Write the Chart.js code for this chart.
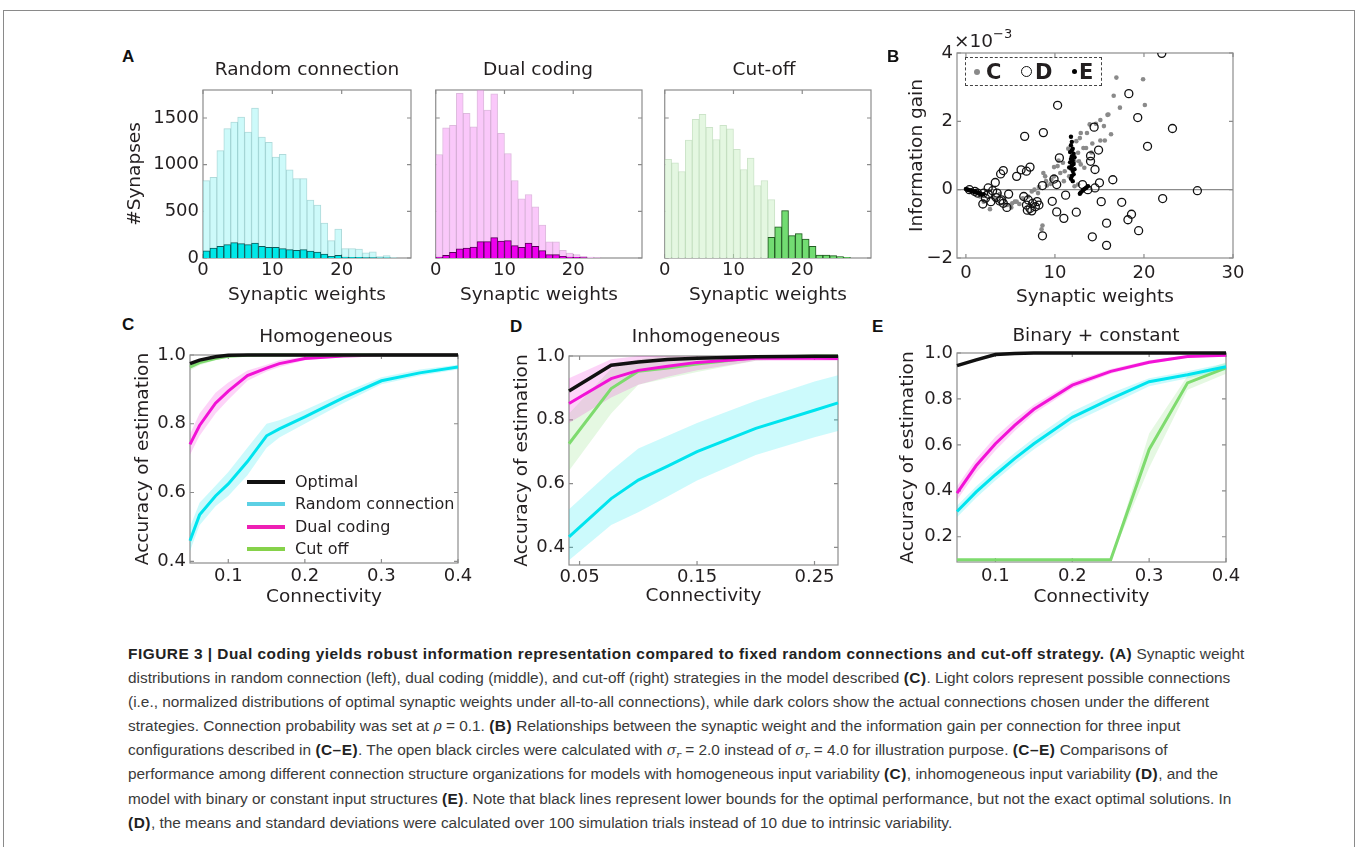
<!DOCTYPE html>
<html>
<head>
<meta charset="utf-8">
<script src="https://cdn.jsdelivr.net/npm/chart.js@4.4.1/dist/chart.umd.min.js"></script>
<style>
  body { margin: 0; width: 1358px; height: 847px; position: relative; overflow: hidden; background: #fff;
         font-family: "DejaVu Sans", sans-serif; color: #231f20; }
  canvas { position: absolute; }
  #frame { position: absolute; left: 3px; top: 10px; width: 1350px; height: 900px;
           border: 1.5px solid #8a8a8a; }
  .ttl { position: absolute; font-size: 18.5px; line-height: 1; white-space: nowrap; transform: translate(-50%, -50%); }
  .let { position: absolute; font: bold 17px/1 "Liberation Sans", Arial, sans-serif; color: #111; }
  .lg { position: absolute; font-size: 16px; line-height: 1; white-space: nowrap; }
  .sw { position: absolute; height: 4px; width: 38px; }
  #bleg { position: absolute; left: 965px; top: 57px; width: 135px; height: 27px; border: 1.5px dashed #444; }
  .bl { position: absolute; font: bold 21px/1 "DejaVu Sans", sans-serif; top: 4px; color: #231f20; }
  .dot { position: absolute; border-radius: 50%; }
  #cap { position: absolute; left: 128px; top: 642px; font: 15.4px/24.1px "Liberation Sans", Arial, sans-serif;
         color: #3a3a3a; white-space: nowrap; }
  #cap b { color: #222; letter-spacing: 0.5px; }
  .m { font-family: "DejaVu Serif", serif; font-style: italic; font-size: 14px; }
  sub { font-size: 10px; line-height: 0; vertical-align: -3px; }
</style>
</head>
<body>
<div id="frame"></div>

<canvas id="hA1"></canvas>
<canvas id="hA2"></canvas>
<canvas id="hA3"></canvas>
<canvas id="cB"></canvas>
<canvas id="cC"></canvas>
<canvas id="cD"></canvas>
<canvas id="cE"></canvas>

<div class="let" style="left:122px;top:48px">A</div>
<div class="let" style="left:887px;top:48px">B</div>
<div class="let" style="left:122px;top:316px">C</div>
<div class="let" style="left:510px;top:318px">D</div>
<div class="let" style="left:872px;top:318px">E</div>

<div class="ttl" style="left:307px;top:69px">Random connection</div>
<div class="ttl" style="left:538px;top:69px">Dual coding</div>
<div class="ttl" style="left:764px;top:69px">Cut-off</div>
<div class="ttl" style="left:326px;top:336px">Homogeneous</div>
<div class="ttl" style="left:706px;top:336px">Inhomogeneous</div>
<div class="ttl" style="left:1096px;top:335px">Binary + constant</div>

<div class="lg" style="left:954px;top:32px;font-size:18.5px">×10<span style="font-size:13px;position:relative;top:-9px">−3</span></div>
<div id="bleg">
  <div class="dot" style="left:8px;top:11px;width:6px;height:6px;background:#8a8a8a"></div>
  <div class="bl" style="left:20px">C</div>
  <div class="dot" style="left:55px;top:8px;width:9px;height:9px;border:1.4px solid #111"></div>
  <div class="bl" style="left:69px">D</div>
  <div class="dot" style="left:106px;top:11px;width:5px;height:5px;background:#000"></div>
  <div class="bl" style="left:113px">E</div>
</div>

<div class="sw" style="left:247px;top:480px;background:#111"></div>
<div class="lg" style="left:295px;top:474px">Optimal</div>
<div class="sw" style="left:247px;top:502px;background:#5cd0e4"></div>
<div class="lg" style="left:295px;top:496px">Random connection</div>
<div class="sw" style="left:247px;top:525px;background:#ee1fb4"></div>
<div class="lg" style="left:295px;top:519px">Dual coding</div>
<div class="sw" style="left:247px;top:547px;background:#86d24a"></div>
<div class="lg" style="left:295px;top:541px">Cut off</div>

<div id="cap">
<b>FIGURE 3 | Dual coding yields robust information representation compared to fixed random connections and cut-off strategy. (A)</b> Synaptic weight<br>
distributions in random connection (left), dual coding (middle), and cut-off (right) strategies in the model described <b>(C)</b>. Light colors represent possible connections<br>
(i.e., normalized distributions of optimal synaptic weights under all-to-all connections), while dark colors show the actual connections chosen under the different<br>
strategies. Connection probability was set at <span class="m">ρ</span> = 0.1. <b>(B)</b> Relationships between the synaptic weight and the information gain per connection for three input<br>
configurations described in <b>(C–E)</b>. The open black circles were calculated with <span class="m">σ<sub>r</sub></span> = 2.0 instead of <span class="m">σ<sub>r</sub></span> = 4.0 for illustration purpose. <b>(C–E)</b> Comparisons of<br>
performance among different connection structure organizations for models with homogeneous input variability <b>(C)</b>, inhomogeneous input variability <b>(D)</b>, and the<br>
model with binary or constant input structures <b>(E)</b>. Note that black lines represent lower bounds for the optimal performance, but not the exact optimal solutions. In<br>
<b>(D)</b>, the means and standard deviations were calculated over 100 simulation trials instead of 10 due to intrinsic variability.
</div>

<script>
// ---- A: histograms, one value per bin of width 1 (bins 0..29)
const randLight = [829, 864, 1150, 1386, 1457, 1511, 1350, 1607, 1296, 1239, 1082, 1111, 946, 850, 850,
                   621, 568, 375, 186, 311, 100, 100, 95, 55, 65, 15, 25, 5, 0, 0];
const randDark = [78, 107, 125, 143, 164, 154, 143, 161, 125, 114, 114, 100, 89, 82, 89,
                  75, 64, 43, 18, 29, 11, 8, 8, 5, 5, 2, 2, 0, 0, 0];
const dualLight = [1109, 1396, 1421, 1764, 1549, 1406, 1800, 1585, 1760, 1335, 1120, 830, 633, 680, 548,
                   354, 172, 172, 82, 54, 36, 18, 10, 5, 0, 0, 0, 0, 0, 0];
const dualDark = [10, 29, 61, 97, 107, 118, 175, 175, 218, 182, 186, 132, 115, 161, 125,
                  79, 36, 36, 18, 11, 7, 4, 0, 0, 0, 0, 0, 0, 0, 0];
const cutLight = [1056, 1020, 927, 1263, 1485, 1539, 1399, 1270, 1421, 1385, 1163, 948, 1070, 777, 830,
                  626, 333, 508, 240, 261, 204, 125, 32, 32, 25, 14, 7, 0, 0, 0];
const cutDark = [0, 0, 0, 0, 0, 0, 0, 0, 0, 0, 0, 0, 0, 0, 0,
                 222, 333, 508, 240, 261, 204, 125, 32, 32, 25, 14, 7, 0, 0, 0];
const histXTicks = [0, 10, 20];
const histYTicks = [0, 500, 1000, 1500];

// ---- B: synaptic weight vs information gain (x1e-3)
const cW = [1.6, 2.0, 2.7, 3.0, 3.3, 3.8, 4.3, 4.4, 4.6, 5.0, 5.1, 5.2, 5.5, 5.7, 6.0, 6.4, 7.0, 7.4, 7.7, 8.1,
            8.2, 8.5, 8.6, 8.7, 8.9, 9.0, 9.1, 9.5, 9.6, 9.9, 9.9, 10.3, 10.4, 10.6, 10.9, 11.0, 11.1, 11.5, 11.6, 12.2,
            12.2, 12.4, 12.6, 12.6, 12.7, 12.8, 12.9, 12.9, 13.2, 13.3, 13.5, 13.6, 13.7, 13.9, 14.1, 14.2, 14.6, 15.1, 15.1, 15.5,
            15.6, 15.9, 16.0, 16.3, 16.6, 16.9, 17.3, 19.9, 20.1];
const cG = [-0.20, -0.35, -0.57, -0.22, -0.30, -0.13, -0.27, -0.45, -0.45, -0.45, -0.52, -0.40, -0.35, -0.35, -0.42, -0.25, -0.20, -0.05, 0.00, -0.10,
            0.08, -1.16, -1.05, 0.49, 0.39, 0.25, 0.12, 0.17, 0.29, 0.39, 0.66, 0.69, 0.85, 0.49, 0.79, 0.25, 0.54, 1.20, 0.39, 0.83,
            0.10, 1.42, 1.08, 0.15, 0.83, 1.51, 0.74, 1.66, 1.22, 0.64, 1.22, 1.66, 0.10, 1.91, 1.09, 1.35, 1.93, 2.04, 1.44, 1.86,
            1.44, 2.19, 2.20, 1.62, 2.75, 3.28, 2.40, 3.23, 2.48];
const dW = [0.4, 1.0, 1.3, 1.9, 2.0, 2.2, 2.5, 2.5, 2.8, 3.0, 3.3, 3.4, 3.5, 3.8, 3.9, 4.0, 4.2, 4.2, 4.6, 4.8,
            5.7, 6.2, 6.5, 6.6, 6.8, 6.8, 6.9, 7.0, 7.2, 7.2, 7.4, 7.5, 7.8, 8.0, 8.2, 8.6, 8.6, 8.7, 9.7, 9.9,
            10.2, 10.2, 10.3, 10.5, 11.0, 11.2, 12.4, 13.1, 13.7, 14.0, 14.0, 14.2, 14.4, 14.5, 14.5, 14.9, 15.0, 15.2, 15.8, 15.8,
            16.5, 17.5, 18.2, 18.3, 18.6, 19.3, 19.4, 20.4, 22.0, 22.1, 23.2, 26.0];
const dG = [0.00, -0.05, -0.10, -0.42, -0.10, -0.25, 0.05, -0.13, -0.35, -0.03, 0.21, -0.23, -0.10, -0.33, 0.46, -0.30, 0.56, -0.40, -0.52, -0.13,
            0.39, 0.58, -0.20, 1.56, 0.54, -0.45, -0.60, -0.30, 0.66, -0.55, -0.62, -0.40, -0.50, -0.35, -0.45, 0.12, -1.35, 1.67, -0.34, 0.31,
            0.15, -0.65, 2.47, 0.93, -0.84, -0.16, -0.66, 0.15, 0.00, 0.99, 0.83, -1.38, 1.83, 0.59, 0.05, 1.16, 0.20, -0.35, -0.98, -1.63,
            0.29, -0.37, -0.88, 2.81, -0.72, 2.11, -1.20, 1.27, 3.99, -0.26, 1.79, -0.03];
const eW = [0.0, 0.1, 0.2, 0.3, 0.4, 0.5, 0.6, 0.7, 0.8, 0.9, 1.0, 1.1, 1.2, 1.3, 1.4, 1.5, 1.6, 1.8, 2.0,
            11.6, 11.7, 11.7, 11.8, 11.8, 11.8, 11.8, 11.8, 11.9, 11.9, 11.9, 11.9, 11.9, 12.0, 12.0, 12.0, 12.0, 12.1, 12.1, 12.1, 12.2, 12.2,
            12.8, 12.9, 13.1, 13.3, 13.5, 13.7];
const eG = [0.02, 0.01, 0.00, -0.01, -0.02, -0.02, -0.03, -0.04, -0.05, -0.05, -0.06, -0.07, -0.08, -0.09, -0.10, -0.11, -0.12, -0.14, -0.13,
            0.65, 1.10, 0.80, 1.55, 1.30, 0.90, 0.62, 0.32, 1.40, 0.98, 0.70, 0.40, 1.15, 1.20, 0.85, 0.55, 0.25, 1.05, 0.75, 0.45, 0.95, 0.60,
            -0.12, -0.08, -0.03, 0.02, 0.05, 0.10];
const bXTicks = [0, 10, 20, 30];
const bYTicks = [-2, 0, 2, 4];

// ---- C: homogeneous
const cX = [0.05, 0.0625, 0.0833, 0.1, 0.125, 0.15, 0.1667, 0.2, 0.25, 0.3, 0.35, 0.4];
const cOpt = [0.975, 0.985, 0.995, 0.999, 1, 1, 1, 1, 1, 1, 1, 1];
const cCut = [0.965, 0.978, 0.99, 0.996, 0.999, 1, 1, 1, 1, 1, 1, 1];
const cCutHi = [0.975, 0.986, 0.995, 0.999, 1, 1, 1, 1, 1, 1, 1, 1];
const cCutLo = [0.955, 0.97, 0.985, 0.993, 0.998, 1, 1, 1, 1, 1, 1, 1];
const cDual = [0.74, 0.795, 0.86, 0.895, 0.94, 0.962, 0.975, 0.99, 0.997, 1, 1, 1];
const cDualHi = [0.77, 0.83, 0.89, 0.92, 0.955, 0.972, 0.985, 0.995, 1, 1, 1, 1];
const cDualLo = [0.71, 0.765, 0.83, 0.87, 0.925, 0.952, 0.965, 0.985, 0.994, 1, 1, 1];
const cRand = [0.46, 0.535, 0.59, 0.625, 0.69, 0.765, 0.785, 0.82, 0.875, 0.925, 0.948, 0.965];
const cRandHi = [0.5, 0.57, 0.62, 0.66, 0.73, 0.8, 0.81, 0.84, 0.89, 0.935, 0.958, 0.972];
const cRandLo = [0.43, 0.505, 0.56, 0.59, 0.65, 0.73, 0.76, 0.8, 0.86, 0.915, 0.94, 0.958];
const cXTicks = [0.1, 0.2, 0.3, 0.4];
const cYTicks = [0.4, 0.6, 0.8, 1.0];

// ---- D: inhomogeneous
const dX = [0.041, 0.0769, 0.1, 0.125, 0.15, 0.2, 0.25, 0.27];
const dOpt = [0.89, 0.971, 0.981, 0.989, 0.993, 0.998, 0.999, 0.999];
const dDual = [0.851, 0.929, 0.955, 0.968, 0.98, 0.993, 0.993, 0.992];
const dDualHi = [0.93, 0.99, 1.0, 1.0, 1.0, 1.0, 1.0, 1.0];
const dDualLo = [0.79, 0.87, 0.91, 0.935, 0.955, 0.985, 0.985, 0.985];
const dCut = [0.725, 0.898, 0.952, 0.962, 0.975, 0.995, 1.0, 1.0];
const dCutHi = [0.82, 0.96, 0.99, 1.0, 1.0, 1.0, 1.0, 1.0];
const dCutLo = [0.64, 0.82, 0.91, 0.93, 0.95, 0.985, 0.995, 0.995];
const dRand = [0.433, 0.553, 0.611, 0.655, 0.70, 0.773, 0.83, 0.853];
const dRandHi = [0.52, 0.64, 0.71, 0.75, 0.79, 0.86, 0.92, 0.94];
const dRandLo = [0.36, 0.47, 0.51, 0.56, 0.61, 0.69, 0.745, 0.765];
const dXTicks = [0.05, 0.15, 0.25];
const dYTicks = [0.4, 0.6, 0.8, 1.0];

// ---- E: binary + constant
const eX = [0.05, 0.075, 0.1, 0.125, 0.15, 0.2, 0.25, 0.3, 0.35, 0.4];
const eOpt = [0.945, 0.97, 0.993, 0.998, 1, 1, 1, 1, 1, 1];
const eDual = [0.39, 0.51, 0.605, 0.685, 0.755, 0.86, 0.92, 0.96, 0.985, 0.99];
const eDualHi = [0.42, 0.54, 0.635, 0.71, 0.775, 0.875, 0.93, 0.968, 0.99, 0.995];
const eDualLo = [0.36, 0.48, 0.575, 0.66, 0.735, 0.845, 0.91, 0.952, 0.98, 0.985];
const eRand = [0.31, 0.395, 0.47, 0.54, 0.605, 0.72, 0.80, 0.875, 0.905, 0.94];
const eRandHi = [0.335, 0.42, 0.495, 0.565, 0.63, 0.745, 0.825, 0.89, 0.92, 0.955];
const eRandLo = [0.285, 0.37, 0.445, 0.515, 0.58, 0.695, 0.775, 0.855, 0.89, 0.925];
const eCut = [0.1, 0.1, 0.1, 0.1, 0.1, 0.1, 0.1, 0.58, 0.87, 0.935];
const eCutHi = [0.1, 0.1, 0.1, 0.1, 0.1, 0.1, 0.1, 0.65, 0.9, 0.96];
const eCutLo = [0.1, 0.1, 0.1, 0.1, 0.1, 0.1, 0.1, 0.5, 0.84, 0.91];
const eXTicks = [0.1, 0.2, 0.3, 0.4];
const eYTicks = [0.2, 0.4, 0.6, 0.8, 1.0];

const CYAN = '#00e4ee', MAG = '#f212d6', GRN = '#7edb6e', BLK = '#111';

Chart.defaults.font.family = '"DejaVu Sans", sans-serif';
Chart.defaults.font.size = 18;
Chart.defaults.color = '#231f20';
Chart.defaults.animation = false;
Chart.defaults.events = [];
Chart.defaults.plugins.legend.display = false;
Chart.defaults.plugins.tooltip.enabled = false;

// box round the plot area plus short inward ticks, like the matplotlib frame
const frame = {
  id: 'frame',
  beforeDatasetsDraw(chart) {
    const { ctx, chartArea: a, scales } = chart;
    ctx.save();
    ctx.strokeStyle = '#8c8c8c';
    ctx.lineWidth = 1.2;
    ctx.strokeRect(a.left, a.top, a.right - a.left, a.bottom - a.top);
    ctx.beginPath();
    scales.x.ticks.forEach(t => {
      const p = scales.x.getPixelForValue(t.value);
      ctx.moveTo(p, a.bottom); ctx.lineTo(p, a.bottom - 4);
      ctx.moveTo(p, a.top); ctx.lineTo(p, a.top + 4);
    });
    scales.y.ticks.forEach(t => {
      const p = scales.y.getPixelForValue(t.value);
      ctx.moveTo(a.left, p); ctx.lineTo(a.left + 4, p);
      ctx.moveTo(a.right, p); ctx.lineTo(a.right - 4, p);
    });
    ctx.stroke();
    ctx.restore();
  }
};

function place(id, p, m) {
  const c = document.getElementById(id);
  c.width = p[2] + m[0] + m[2];
  c.height = p[3] + m[1] + m[3];
  c.style.left = (p[0] - m[0]) + 'px';
  c.style.top = (p[1] - m[1]) + 'px';
  return c;
}

function axis(o) {
  return {
    type: 'linear', min: o.min, max: o.max, offset: false,
    grid: o.grid || { display: false, drawTicks: false, offset: false },
    border: { display: false },
    ticks: { display: o.showTicks !== false, padding: o.pad, callback: o.fmt, font: { size: 18 } },
    title: { display: !!o.title, text: o.title, padding: 0, font: { size: 18.5 } },
    afterBuildTicks: s => { s.ticks = o.ticks.map(v => ({ value: v })); },
    afterFit: s => { if (o.isX) s.height = o.fit; else s.width = o.fit; }
  };
}

const xy = (xs, ys) => xs.map((x, i) => ({ x, y: ys[i] }));
const plain = v => String(v);

function hist(id, p, m, light, dark, cols, showY) {
  const pts = a => a.map((v, i) => ({ x: i + 0.5, y: v })).filter(q => q.y > 0);
  const bar = { grouped: false, barPercentage: 1, categoryPercentage: 1, borderWidth: 1 };
  new Chart(place(id, p, m), {
    type: 'bar',
    data: {
      datasets: [
        Object.assign({ data: pts(dark), backgroundColor: cols[2], borderColor: cols[3] }, bar),
        Object.assign({ data: pts(light), backgroundColor: cols[0], borderColor: cols[1] }, bar)
      ]
    },
    options: {
      responsive: false,
      layout: { padding: { left: 0, top: m[1], right: m[2], bottom: 0 } },
      scales: {
        x: axis({ min: 0, max: 30, ticks: histXTicks, fmt: plain, pad: 2, title: 'Synaptic weights', isX: true, fit: m[3] }),
        y: axis({ min: 0, max: 1800, ticks: histYTicks, fmt: plain, pad: 4, title: showY ? '#Synapses' : '',
                  showTicks: showY, fit: m[0] })
      }
    },
    plugins: [frame]
  });
}

hist('hA1', [203, 90, 208, 168], [79, 20, 20, 48], randLight, randDark,
     ['#cdfafa', 'rgba(110,190,190,0.55)', '#00e8e8', '#0d5c5c'], true);
hist('hA2', [433, 90, 209, 168], [5, 20, 20, 48], dualLight, dualDark,
     ['#fac8fa', 'rgba(200,140,200,0.6)', '#ee00ee', '#5a005a'], false);
hist('hA3', [662, 90, 209, 168], [5, 20, 20, 48], cutLight, cutDark,
     ['#e4f7e1', 'rgba(170,210,165,0.6)', '#72dc72', '#245c24'], false);

// ---- B scatter
const minus = v => (v < 0 ? '\u2212' + Math.abs(v) : String(v));
new Chart(place('cB', [957, 53, 276, 205], [51, 20, 20, 50]), {
  type: 'scatter',
  data: {
    datasets: [
      { data: xy(eW, eG), pointRadius: 2.2, backgroundColor: '#000', borderWidth: 0 },
      { data: xy(dW, dG), pointRadius: 4, backgroundColor: 'rgba(0,0,0,0)', borderColor: '#111', borderWidth: 1.3 },
      { data: xy(cW, cG), pointRadius: 2.3, backgroundColor: '#8a8a8a', borderWidth: 0 }
    ]
  },
  options: {
    responsive: false,
    layout: { padding: { left: 0, top: 20, right: 20, bottom: 0 } },
    scales: {
      x: axis({ min: -1, max: 30, ticks: bXTicks, fmt: plain, pad: 5, title: 'Synaptic weights', isX: true, fit: 50 }),
      y: axis({ min: -2, max: 4, ticks: bYTicks, fmt: minus, pad: 4, title: 'Information gain', fit: 51,
                grid: { display: true, drawTicks: false, lineWidth: 1.2,
                        color: c => (c.tick && c.tick.value === 0 ? '#8c8c8c' : 'rgba(0,0,0,0)') } })
    }
  },
  plugins: [frame]
});

// ---- C, D, E accuracy curves with shaded bands
function band(xs, hi, lo, col) {
  return [
    { data: xy(xs, hi), fill: '+1', backgroundColor: col, borderWidth: 0, pointRadius: 0, order: 10 },
    { data: xy(xs, lo), fill: false, borderWidth: 0, pointRadius: 0, order: 10 }
  ];
}
function line(xs, ys, col, order, w) {
  return { data: xy(xs, ys), borderColor: col, borderWidth: w || 3, pointRadius: 0, fill: false,
           tension: 0, order, clip: false };
}
function acc(id, p, m, datasets, xo, yo) {
  new Chart(place(id, p, m), {
    type: 'line',
    data: { datasets },
    options: {
      responsive: false,
      layout: { padding: { left: 0, top: m[1], right: m[2], bottom: 0 } },
      scales: {
        x: axis(Object.assign({ title: 'Connectivity', isX: true, fit: m[3] }, xo)),
        y: axis(Object.assign({ title: 'Accuracy of estimation', fit: m[0], pad: 4, fmt: v => v.toFixed(1) }, yo))
      }
    },
    plugins: [frame]
  });
}

const fCyan = 'rgba(0,228,238,0.2)', fMag = 'rgba(242,18,214,0.18)', fGrn = 'rgba(126,219,110,0.2)';

acc('cC', [190, 355, 268, 208], [58, 20, 20, 45], [
  ...band(cX, cRandHi, cRandLo, fCyan),
  ...band(cX, cDualHi, cDualLo, fMag),
  ...band(cX, cCutHi, cCutLo, fGrn),
  line(cX, cOpt, BLK, 1, 3.5), line(cX, cCut, GRN, 2), line(cX, cDual, MAG, 3), line(cX, cRand, CYAN, 4)
], { min: 0.05, max: 0.4, ticks: cXTicks, fmt: v => v.toFixed(1), pad: 3 },
   { min: 0.395, max: 1.0, ticks: cYTicks });

acc('cD', [569, 356, 269, 209], [58, 20, 20, 42], [
  ...band(dX, dRandHi, dRandLo, fCyan),
  ...band(dX, dDualHi, dDualLo, fMag),
  ...band(dX, dCutHi, dCutLo, fGrn),
  line(dX, dOpt, BLK, 1, 3.5), line(dX, dDual, MAG, 2), line(dX, dCut, GRN, 3), line(dX, dRand, CYAN, 4)
], { min: 0.041, max: 0.27, ticks: dXTicks, fmt: v => v.toFixed(2), pad: 2 },
   { min: 0.345, max: 1.0, ticks: dYTicks });

acc('cE', [957, 353, 269, 209], [60, 20, 20, 46], [
  ...band(eX, eRandHi, eRandLo, fCyan),
  ...band(eX, eDualHi, eDualLo, fMag),
  ...band(eX, eCutHi, eCutLo, fGrn),
  line(eX, eOpt, BLK, 1, 3.5), line(eX, eDual, MAG, 2), line(eX, eRand, CYAN, 3), line(eX, eCut, GRN, 4)
], { min: 0.05, max: 0.4, ticks: eXTicks, fmt: v => v.toFixed(1), pad: 4 },
   { min: 0.09, max: 1.0, ticks: eYTicks });
</script>
</body>
</html>
